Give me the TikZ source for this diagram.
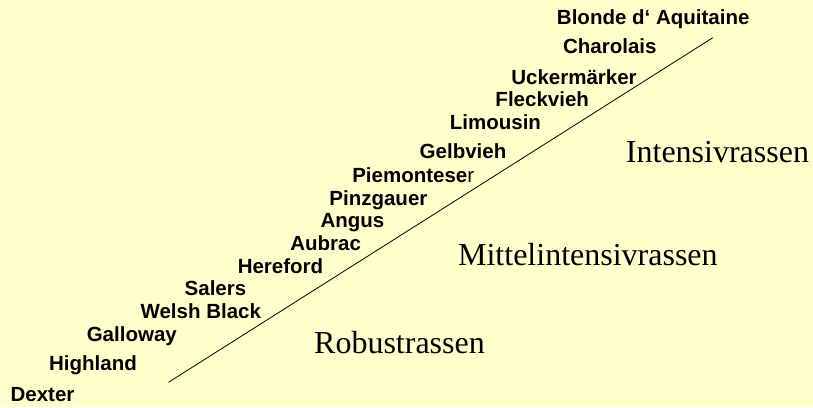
\documentclass[tikz,border=0pt]{standalone}
\usepackage{fontspec}
\setmainfont{Liberation Serif}
\setsansfont{Liberation Sans}
\definecolor{bg}{HTML}{FFFFCC}
\begin{document}
\begin{tikzpicture}[x=1pt,y=-1pt,
  breed/.style={font=\sffamily\bfseries\fontsize{20.5}{24}\selectfont, inner sep=0pt, anchor=base},
  group/.style={font=\rmfamily\fontsize{32}{38}\selectfont, inner sep=0pt, anchor=base}]
\fill[bg] (0,0) rectangle (813,407);
\useasboundingbox (0,0) rectangle (813,407);
\coordinate (lo) at (168.5,382.3);
\coordinate (hi) at (712.8,37.7);
\draw[line width=0.8pt] (lo) -- (hi);
\node[breed] (blonde) at (653.2,24) {Blonde d‘ Aquitaine};
\node[breed] (charolais) at (609.8,53.3) {Charolais};
\node[breed] (ucker) at (574,84.3) {Uckermärker};
\node[breed] (fleck) at (542.2,106.7) {Fleckvieh};
\node[breed] (limousin) at (495.4,129.3) {Limousin};
\node[breed] (gelb) at (463,158.5) {Gelbvieh};
\node[breed] (piemont) at (413.2,182.3) {Piemontese{\mdseries r}};
\node[breed] (pinz) at (378.4,205) {Pinzgauer};
\node[breed] (angus) at (352.5,227) {Angus};
\node[breed] (aubrac) at (325.7,250.5) {Aubrac};
\node[breed] (hereford) at (280.5,273) {Hereford};
\node[breed] (salers) at (215.5,295.7) {Salers};
\node[breed] (welsh) at (200.8,318.3) {Welsh Black};
\node[breed] (galloway) at (131.8,341.7) {Galloway};
\node[breed] (highland) at (93,370.7) {Highland};
\node[breed] (dexter) at (42.5,401.7) {Dexter};
\node[group] (intensiv) at (717.5,162.3) {Intensivrassen};
\node[group] (mittel) at (587.9,265) {Mittelintensivrassen};
\node[group] (robust) at (399.5,353) {Robustrassen};
\end{tikzpicture}
\end{document}
